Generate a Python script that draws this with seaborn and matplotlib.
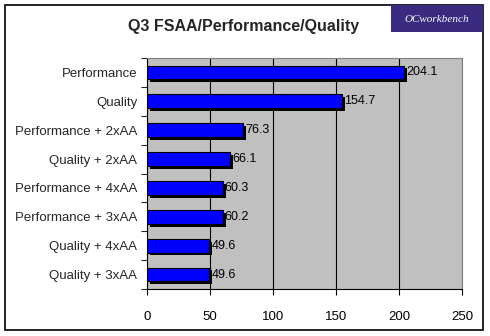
import matplotlib
matplotlib.use("Agg")
import matplotlib.pyplot as plt
import matplotlib.patheffects as pe
from matplotlib.patches import Rectangle
import seaborn as sns
import pandas as pd
import numpy as np

categories = ["Performance", "Quality", "Performance + 2xAA", "Quality + 2xAA",
              "Performance + 4xAA", "Performance + 3xAA", "Quality + 4xAA", "Quality + 3xAA"]
values = [204.1, 154.7, 76.3, 66.1, 60.3, 60.2, 49.6, 49.6]
xticks = [0, 50, 100, 150, 200, 250]

sns.set_theme(style="white")
plt.rcParams['font.family'] = ['Liberation Sans', 'DejaVu Sans']

df = pd.DataFrame({"cat": categories, "val": values})

fig = plt.figure(figsize=(4.9, 3.36), dpi=100)
fig.patch.set_facecolor("white")
fig.patches.append(Rectangle((5/490, 6/336), 478/490, 325/336, transform=fig.transFigure,
                             fill=False, edgecolor="black", linewidth=1.2))
ax = fig.add_axes([147/490, 47/336, 315/490, 231/336])
ax.set_facecolor("#C0C0C0")

sns.barplot(data=df, y="cat", x="val", orient="h", color="#0000FF", width=0.48,
            edgecolor="black", linewidth=0.8, saturation=1, ax=ax, zorder=3)
for p in ax.patches:
    p.set_path_effects([pe.SimplePatchShadow(offset=(2, -2), shadow_rgbFace="black", alpha=1),
                        pe.Normal()])

for i, v in enumerate(values):
    ax.text(v + 1.5, i, f"{v}", va="center", ha="left", fontsize=9, color="black", zorder=5)

ax.set_xlim(0, 250)
ax.set_ylim(len(categories) - 0.5, -0.5)
ax.set_xticks(xticks)
ax.set_xticklabels([str(t) for t in xticks], fontsize=9.5)
ax.set_yticks(range(len(categories)))
ax.set_yticklabels(categories, fontsize=9.5)
ax.tick_params(axis="y", length=0, pad=7)
ax.tick_params(axis="x", length=4, width=0.8, direction="out", pad=12, colors="black", bottom=True)
ax.set_yticks(np.arange(-0.5, len(categories), 1), minor=True)
ax.tick_params(axis="y", which="minor", length=4, width=0.8, direction="out", left=True)
ax.xaxis.grid(True, color="black", linewidth=0.8, zorder=1)
ax.set_axisbelow(True)
ax.set_xlabel("")
ax.set_ylabel("")
for s in ["top", "right"]:
    ax.spines[s].set_color("#808080")
    ax.spines[s].set_linewidth(0.8)
for s in ["left", "bottom"]:
    ax.spines[s].set_color("black")
    ax.spines[s].set_linewidth(0.8)

fig.text(244/490, 1 - 26/336, "Q3 FSAA/Performance/Quality", ha="center", va="center",
         fontsize=11.5, fontweight="bold")

# logo
fig.patches.append(Rectangle((391/490, 1 - 32/336), 92/490, 27/336, transform=fig.transFigure,
                             facecolor="#3A2A80", edgecolor="none"))
fig.text(437/490, 1 - 19/336, "OCworkbench", ha="center", va="center", fontsize=8,
         color="white", family=["Liberation Serif", "DejaVu Serif"], style="italic")

fig.savefig("out.png", dpi=100)
